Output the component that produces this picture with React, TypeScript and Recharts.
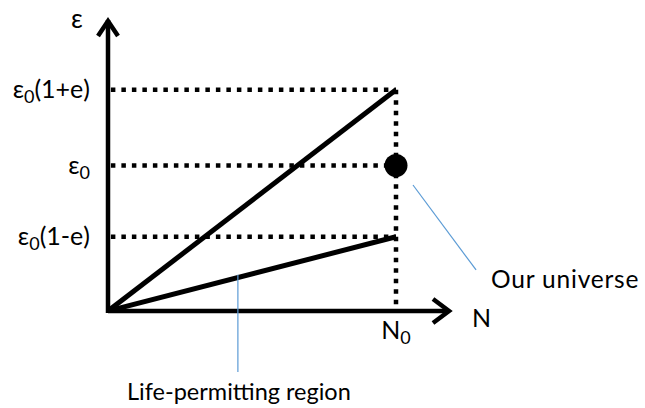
import React from 'react';
import { ComposedChart, Line, XAxis, YAxis, ReferenceLine, ReferenceDot } from 'recharts';

// N runs from the origin to N0 (= 1); energy levels in units of ε0
const nPoints = [0, 1];
const upperEps = [0, 1.52];
const lowerEps = [0, 0.51];
const epsLevels = [0.51, 1, 1.52];
const epsLabels = [
  { pre: 'ε', sub: '0', post: '(1-e)' },
  { pre: 'ε', sub: '0', post: '' },
  { pre: 'ε', sub: '0', post: '(1+e)' },
];
const nTicks = [1];
const nTickLabels = [{ pre: 'N', sub: '0', post: '' }];
const ourUniverse = { n: 1, eps: 1 };

const N_MAX = 1.1875;
const EPS_MAX = 2.0;
const FONT = 'Lato, "Open Sans", sans-serif';
const BLUE = '#5b9bd5';

const data = nPoints.map((n, i) => ({ n, hi: upperEps[i], lo: lowerEps[i] }));

type Lbl = { pre: string; sub: string; post: string };

const SubText = ({ x, y, lbl, anchor }: { x: number; y: number; lbl: Lbl; anchor: 'start' | 'middle' | 'end' }) => (
  <text x={x} y={y} textAnchor={anchor} fontFamily={FONT} fontSize={25} fill="#000">
    {lbl.pre}
    <tspan fontSize={18} dy={5}>{lbl.sub}</tspan>
    {lbl.post ? <tspan dy={-5}>{lbl.post}</tspan> : null}
  </text>
);

const YTick = (props: any) => {
  const idx = epsLevels.indexOf(props.payload.value);
  return <SubText x={props.x} y={props.y + 8} lbl={epsLabels[idx]} anchor="end" />;
};

const XTick = (props: any) => {
  const idx = nTicks.indexOf(props.payload.value);
  return <SubText x={props.x} y={props.y + 20} lbl={nTickLabels[idx]} anchor="middle" />;
};

const yArrow = (p: any) => (
  <g>
    <line x1={p.x1} y1={p.y1 + 2} x2={p.x2} y2={p.y2} stroke="#000" strokeWidth={4.5} />
    <polyline
      points={`${p.x2 - 10},${p.y2 + 16} ${p.x2},${p.y2 + 1} ${p.x2 + 10},${p.y2 + 16}`}
      fill="none"
      stroke="#000"
      strokeWidth={4.5}
    />
    <text x={p.x2 - 31} y={p.y2 + 8} fontFamily={FONT} fontSize={26} textAnchor="middle">ε</text>
  </g>
);

const xArrow = (p: any) => (
  <g>
    <line x1={p.x1} y1={p.y1} x2={p.x2 - 2} y2={p.y2} stroke="#000" strokeWidth={4.5} />
    <polyline
      points={`${p.x2 - 17},${p.y2 - 12} ${p.x2 - 1},${p.y2} ${p.x2 - 17},${p.y2 + 12}`}
      fill="none"
      stroke="#000"
      strokeWidth={4.5}
    />
    <text x={p.x2 + 22} y={p.y2 + 16} fontFamily={FONT} fontSize={25}>N</text>
  </g>
);

const calloutUniverse = (p: any) => (
  <g>
    <line x1={p.x1} y1={p.y1} x2={p.x2} y2={p.y2} stroke={BLUE} strokeWidth={1.2} />
    <text x={p.x2 + 15} y={p.y2 + 18} fontFamily={FONT} fontSize={24.5} letterSpacing={0.8}>
      Our universe
    </text>
  </g>
);

const calloutLife = (p: any) => (
  <g>
    <line x1={p.x1} y1={p.y1} x2={p.x2} y2={p.y2} stroke={BLUE} strokeWidth={1.2} />
    <text x={p.x2 + 1} y={p.y2 + 28} fontFamily={FONT} fontSize={23.5} textAnchor="middle">
      Life-permitting region
    </text>
  </g>
);

const dotted = { stroke: '#000', strokeWidth: 4.5, strokeDasharray: '4.5 6', ifOverflow: 'visible' as const };

export default function App() {
  return (
    <div style={{ position: 'absolute', left: 0, top: 0, background: '#fff' }}>
      <ComposedChart
        width={645}
        height={408}
        data={data}
        margin={{ top: 20, right: 195, bottom: 57, left: 8 }}
      >
        <XAxis
          type="number"
          dataKey="n"
          domain={[0, N_MAX]}
          allowDataOverflow
          ticks={nTicks}
          tick={<XTick />}
          axisLine={false}
          tickLine={false}
          height={40}
        />
        <YAxis
          type="number"
          domain={[0, EPS_MAX]}
          allowDataOverflow
          ticks={epsLevels}
          tick={<YTick />}
          axisLine={false}
          tickLine={false}
          tickSize={0}
          tickMargin={18}
          width={100}
        />
        {epsLevels.map((v) => (
          <ReferenceLine key={v} segment={[{ x: 0.01, y: v }, { x: 1, y: v }]} {...dotted} />
        ))}
        <ReferenceLine segment={[{ x: 1, y: upperEps[1] }, { x: 1, y: 0 }]} {...dotted} />
        <ReferenceLine segment={[{ x: 0, y: 0 }, { x: 0, y: EPS_MAX }]} ifOverflow="visible" shape={yArrow} />
        <ReferenceLine segment={[{ x: 0, y: 0 }, { x: N_MAX, y: 0 }]} ifOverflow="visible" shape={xArrow} />
        <Line dataKey="hi" stroke="#000" strokeWidth={5} dot={false} isAnimationActive={false} />
        <Line dataKey="lo" stroke="#000" strokeWidth={5} dot={false} isAnimationActive={false} />
        <ReferenceDot x={ourUniverse.n} y={ourUniverse.eps} r={11.5} fill="#000" stroke="none" ifOverflow="visible" />
        <ReferenceLine
          segment={[{ x: 1.059, y: 0.866 }, { x: 1.278, y: 0.282 }]}
          ifOverflow="visible"
          shape={calloutUniverse}
        />
        <ReferenceLine
          segment={[{ x: 0.451, y: 0.25 }, { x: 0.451, y: -0.419 }]}
          ifOverflow="visible"
          shape={calloutLife}
        />
      </ComposedChart>
    </div>
  );
}
